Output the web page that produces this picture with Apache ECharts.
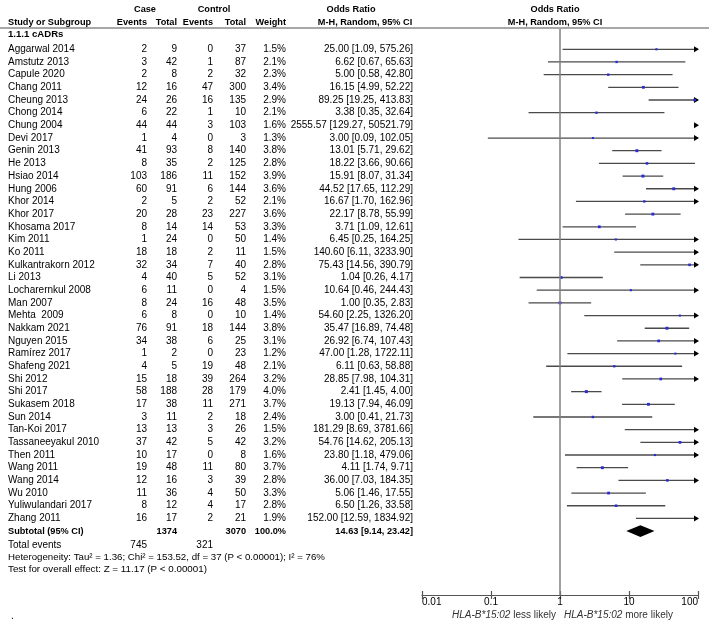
<!DOCTYPE html>
<html><head><meta charset="utf-8">
<script src="https://cdn.jsdelivr.net/npm/echarts@6/dist/echarts.min.js"></script>
<style>html,body{margin:0;padding:0;background:#fff}#c{width:709px;height:626px}</style>
</head><body><div id="c"></div>
<script>
const studies = ['Aggarwal 2014','Amstutz 2013','Capule 2020','Chang 2011','Cheung 2013','Chong 2014','Chung 2004','Devi 2017','Genin 2013','He 2013','Hsiao 2014','Hung 2006','Khor 2014','Khor 2017','Khosama 2017','Kim 2011','Ko 2011','Kulkantrakorn 2012','Li 2013','Locharernkul 2008','Man 2007','Mehta  2009','Nakkam 2021','Nguyen 2015','Ramírez 2017','Shafeng 2021','Shi 2012','Shi 2017','Sukasem 2018','Sun 2014','Tan-Koi 2017','Tassaneeyakul 2010','Then 2011','Wang 2011','Wang 2014','Wu 2010','Yuliwulandari 2017','Zhang 2011'];
const caseEvents = [2,3,2,12,24,6,44,1,41,8,103,60,2,20,8,1,18,32,4,6,8,6,76,34,1,4,15,58,17,3,13,37,10,19,12,11,8,16];
const caseTotal  = [9,42,8,16,26,22,44,4,93,35,186,91,5,28,14,24,18,34,40,11,24,8,91,38,2,5,18,188,38,11,13,42,17,48,16,36,12,17];
const ctrlEvents = [0,1,2,47,16,1,3,0,8,2,11,6,2,23,14,0,2,7,5,0,16,0,18,6,0,19,39,28,11,2,3,5,0,11,3,4,4,2];
const ctrlTotal  = [37,87,32,300,135,10,103,3,140,125,152,144,52,227,53,50,11,40,52,4,48,10,144,25,23,48,264,179,271,18,26,42,8,80,39,50,17,21];
const weights    = [1.5,2.1,2.3,3.4,2.9,2.1,1.6,1.3,3.8,2.8,3.9,3.6,2.1,3.6,3.3,1.4,1.5,2.8,3.1,1.5,3.5,1.4,3.8,3.1,1.2,2.1,3.2,4.0,3.7,2.4,1.5,3.2,1.6,3.7,2.8,3.3,2.8,1.9];
const orValues   = [25.00,6.62,5.00,16.15,89.25,3.38,2555.57,3.00,13.01,18.22,15.91,44.52,16.67,22.17,3.71,6.45,140.60,75.43,1.04,10.64,1.00,54.60,35.47,26.92,47.00,6.11,28.85,2.41,19.13,3.00,181.29,54.76,23.80,4.11,36.00,5.06,6.50,152.00];
const ciLow      = [1.09,0.67,0.58,4.99,19.25,0.35,129.27,0.09,5.71,3.66,8.07,17.65,1.70,8.78,1.09,0.25,6.11,14.56,0.26,0.46,0.35,2.25,16.89,6.74,1.28,0.63,7.98,1.45,7.94,0.41,8.69,14.62,1.18,1.74,7.03,1.46,1.26,12.59];
const ciHigh     = [575.26,65.63,42.80,52.22,413.83,32.64,50521.79,102.05,29.62,90.66,31.34,112.29,162.96,55.99,12.61,164.25,3233.90,390.79,4.17,244.43,2.83,1326.20,74.48,107.43,1722.11,58.88,104.31,4.00,46.09,21.73,3781.66,205.13,479.06,9.71,184.35,17.55,33.58,1834.92];
const pooled = [14.63, 9.14, 23.42];          // OR, low, high
const subtotalTotals = [1374, 3070];          // case total, control total
const totalEvents = [745, 321];               // case, control
const tickValues = [0.01, 0.1, 1, 10, 100];
const tickLabels = ['0.01', '0.1', '1', '10', '100'];
const headerTop = ['Case', 'Control', 'Odds Ratio', 'Odds Ratio'];
const headerSub = ['Study or Subgroup', 'Events', 'Total', 'Events', 'Total', 'Weight', 'M-H, Random, 95% CI', 'M-H, Random, 95% CI'];
const subgroupTitle = '1.1.1 cADRs';
const heterogeneityText = 'Heterogeneity: Tau² = 1.36; Chi² = 153.52, df = 37 (P < 0.00001); I² = 76%';
const overallText = 'Test for overall effect: Z = 11.17 (P < 0.00001)';

const FONT = 'Arial, "Liberation Sans", sans-serif';
const COL = {name: 8, ev: 147, tot: 177, cev: 213, ctot: 246, w: 286, or: 413};
const fmt = v => v.toFixed(2);

function txt(t, x, y, align, bold, size) {
  const fs = size || (bold ? 9.2 : 10);
  return {type: 'text', x: x, y: y, silent: true,
    style: {text: t, align: align, verticalAlign: 'middle',
      font: (bold ? 'bold ' : '') + fs + 'px ' + FONT, fill: '#000'}};
}

const chart = echarts.init(document.getElementById('c'), null, {renderer: 'canvas'});

const xAxisBase = {type: 'log', logBase: 10, min: 0.01, max: 100, gridIndex: 0, position: 'bottom', splitLine: {show: false}};

chart.setOption({
  animation: false,
  backgroundColor: '#fff',
  grid: {left: 422, right: 11, top: 29, bottom: 31},
  xAxis: [
    Object.assign({}, xAxisBase, {
      axisLine: {show: true, onZero: false, lineStyle: {color: '#555', width: 1.2}},
      axisTick: {show: true, inside: false, length: 4, lineStyle: {color: '#555', width: 1.2}},
      axisLabel: {show: true, margin: 2, fontSize: 10, fontFamily: FONT, color: '#000',
        alignMinLabel: 'left', alignMaxLabel: 'right',
        formatter: v => tickLabels[Math.round(Math.log10(v)) + 2]}
    }),
    Object.assign({}, xAxisBase, {
      axisLine: {show: false, onZero: false},
      axisTick: {show: true, inside: true, length: 4, lineStyle: {color: '#555', width: 1.2}},
      axisLabel: {show: false}
    })
  ],
  yAxis: {type: 'value', inverse: true, min: -1.6, max: 43.04, show: false},
  series: [
    {
      type: 'line', data: [], silent: true,
      markLine: {symbol: ['none', 'none'], silent: true, label: {show: false},
        lineStyle: {color: '#808080', width: 1.5, type: 'solid'},
        data: [{xAxis: 1}]}
    },
    {
      // study rows: table text + CI lines + markers
      type: 'custom', coordinateSystem: 'cartesian2d', clip: false, silent: true,
      data: studies.map((s, i) => [orValues[i], i]),
      renderItem: function (params, api) {
        const i = params.dataIndex;
        const y = api.coord([1, i])[1];
        const ch = [];
        ch.push(txt(studies[i], COL.name, y, 'left'));
        ch.push(txt(String(caseEvents[i]), COL.ev, y, 'right'));
        ch.push(txt(String(caseTotal[i]), COL.tot, y, 'right'));
        ch.push(txt(String(ctrlEvents[i]), COL.cev, y, 'right'));
        ch.push(txt(String(ctrlTotal[i]), COL.ctot, y, 'right'));
        ch.push(txt(weights[i].toFixed(1) + '%', COL.w, y, 'right'));
        ch.push(txt(fmt(orValues[i]) + ' [' + fmt(ciLow[i]) + ', ' + fmt(ciHigh[i]) + ']', COL.or, y, 'right'));
        const lo = Math.max(ciLow[i], 0.01), hi = Math.min(ciHigh[i], 100);
        const pHi = api.coord([100, i]);
        if (lo < hi) {
          const a = api.coord([lo, i]), b = api.coord([hi, i]);
          ch.push({type: 'line', silent: true, shape: {x1: a[0], y1: y, x2: b[0], y2: y},
            style: {stroke: '#4a4a4a', lineWidth: 1.3}});
        }
        if (ciHigh[i] > 100) {
          const xt = pHi[0] + 1;
          ch.push({type: 'polygon', silent: true,
            shape: {points: [[xt, y], [xt - 5, y - 3], [xt - 5, y + 3]]},
            style: {fill: '#000'}});
        }
        if (orValues[i] >= 0.01 && orValues[i] <= 100) {
          const p = api.coord([orValues[i], i]);
          const s = 1.6 + weights[i] * 0.35;
          ch.push({type: 'rect', silent: true,
            shape: {x: p[0] - s / 2, y: y - s / 2, width: s, height: s},
            style: {fill: '#2b2bd6'}});
        }
        return {type: 'group', children: ch};
      }
    },
    {
      // pooled diamond
      type: 'custom', coordinateSystem: 'cartesian2d', clip: false, silent: true,
      data: [[pooled[0], 38]],
      renderItem: function (params, api) {
        const r = api.value(1);
        const c = api.coord([pooled[0], r]);
        const l = api.coord([pooled[1], r]);
        const h = api.coord([pooled[2], r]);
        const hh = api.size([0, 0.47])[1];
        return {type: 'polygon', silent: true,
          shape: {points: [[l[0], c[1]], [c[0], c[1] - hh], [h[0], c[1]], [c[0], c[1] + hh]]},
          style: {fill: '#000'}};
      }
    },
    {
      // headers, subtotal and footer texts
      type: 'custom', coordinateSystem: 'cartesian2d', clip: false, silent: true,
      data: [[1, 0]],
      renderItem: function (params, api) {
        const Y = r => api.coord([1, r])[1];
        const ch = [];
        const y1 = Y(-3.15), y2 = Y(-2.12), y3 = Y(-1.15);
        ch.push(txt(headerTop[0], 145, y1, 'center', true));
        ch.push(txt(headerTop[1], 214, y1, 'center', true));
        ch.push(txt(headerTop[2], 351, y1, 'center', true));
        ch.push(txt(headerTop[3], 555, y1, 'center', true));
        ch.push(txt(headerSub[0], COL.name, y2, 'left', true));
        ch.push(txt(headerSub[1], COL.ev, y2, 'right', true));
        ch.push(txt(headerSub[2], COL.tot, y2, 'right', true));
        ch.push(txt(headerSub[3], COL.cev, y2, 'right', true));
        ch.push(txt(headerSub[4], COL.ctot, y2, 'right', true));
        ch.push(txt(headerSub[5], COL.w, y2, 'right', true));
        ch.push(txt(headerSub[6], 365, y2, 'center', true));
        ch.push(txt(headerSub[7], 555, y2, 'center', true));
        const yl = Y(-1.6) - 1;
        ch.push({type: 'line', silent: true, shape: {x1: 0, y1: yl, x2: api.getWidth(), y2: yl},
          style: {stroke: '#8a8a8a', lineWidth: 1.6}});
        ch.push(txt(subgroupTitle, COL.name, y3, 'left', true, 9.6));
        const ys = Y(38);
        ch.push(txt('Subtotal (95% CI)', COL.name, ys, 'left', true));
        ch.push(txt(String(subtotalTotals[0]), COL.tot, ys, 'right', true));
        ch.push(txt(String(subtotalTotals[1]), COL.ctot, ys, 'right', true));
        ch.push(txt('100.0%', COL.w, ys, 'right', true));
        ch.push(txt(fmt(pooled[0]) + ' [' + fmt(pooled[1]) + ', ' + fmt(pooled[2]) + ']', COL.or, ys, 'right', true));
        const yt = Y(39.08);
        ch.push(txt('Total events', COL.name, yt, 'left'));
        ch.push(txt(String(totalEvents[0]), COL.ev, yt, 'right'));
        ch.push(txt(String(totalEvents[1]), COL.cev, yt, 'right'));
        ch.push(txt(heterogeneityText, COL.name, Y(40.06), 'left', false, 9.7));
        ch.push(txt(overallText, COL.name, Y(41.04), 'left', false, 9.8));
        ch.push(txt('.', 11, Y(44.7), 'left'));
        // axis direction labels
        const x1 = api.coord([1, 0])[0];
        const yb = Y(43.04) + 20;
        const rich = {i: {fontStyle: 'italic', fontSize: 10, fontFamily: FONT, fill: '#333'},
                      n: {fontSize: 10, fontFamily: FONT, fill: '#333'}};
        ch.push({type: 'text', x: x1 - 4, y: yb, silent: true,
          style: {text: '{i|HLA-B*15:02}{n| less likely}', rich: rich, align: 'right', verticalAlign: 'middle'}});
        ch.push({type: 'text', x: x1 + 4, y: yb, silent: true,
          style: {text: '{i|HLA-B*15:02}{n| more likely}', rich: rich, align: 'left', verticalAlign: 'middle'}});
        return {type: 'group', children: ch};
      }
    }
  ]
});
</script>
</body></html>
